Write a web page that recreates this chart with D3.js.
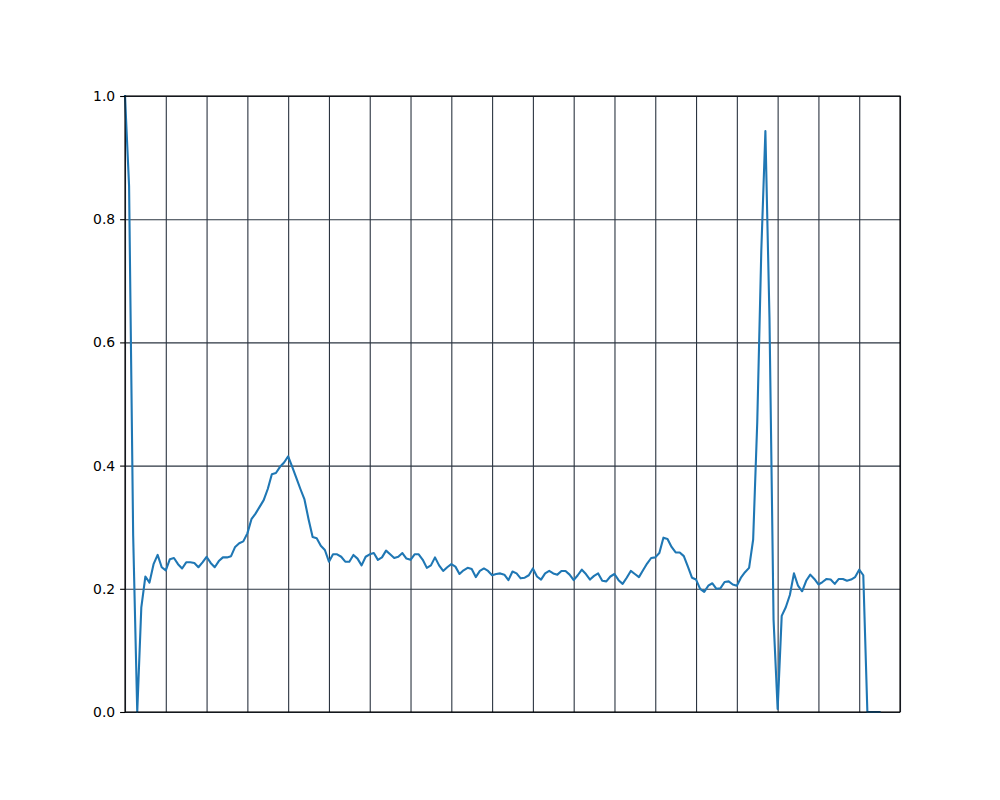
<!DOCTYPE html>
<html>
<head>
<meta charset="utf-8">
<script src="https://cdn.jsdelivr.net/npm/d3@7"></script>
<style>
  html, body { margin: 0; padding: 0; background: #fff; }
  svg { display: block; }
</style>
</head>
<body>
<svg id="chart" width="1000" height="800"></svg>
<script>
// ---- data ----
const signal = [
  1.0, 0.854, 0.287, 0.0, 0.17, 0.22, 0.21, 0.24, 0.255, 0.235,
  0.23, 0.248, 0.25, 0.24, 0.233, 0.243, 0.243, 0.242, 0.235, 0.243,
  0.252, 0.242, 0.235, 0.245, 0.251, 0.251, 0.253, 0.268, 0.274, 0.277,
  0.29, 0.313, 0.322, 0.333, 0.344, 0.362, 0.386, 0.388, 0.398, 0.405,
  0.415, 0.398, 0.38, 0.362, 0.345, 0.313, 0.284, 0.282, 0.27, 0.263,
  0.244, 0.256, 0.256, 0.252, 0.244, 0.244, 0.255, 0.249, 0.238, 0.252,
  0.256, 0.258, 0.247, 0.251, 0.262, 0.256, 0.25, 0.252, 0.258, 0.249,
  0.247, 0.256, 0.256, 0.247, 0.234, 0.238, 0.251, 0.238, 0.229, 0.235,
  0.24, 0.236, 0.224, 0.23, 0.234, 0.232, 0.219, 0.229, 0.233, 0.229,
  0.222, 0.224, 0.225, 0.223, 0.214, 0.228, 0.225, 0.217, 0.218, 0.222,
  0.233, 0.22, 0.215, 0.225, 0.229, 0.225, 0.223, 0.229, 0.229, 0.223,
  0.214, 0.222, 0.231, 0.224, 0.215, 0.221, 0.225, 0.213, 0.212, 0.22,
  0.224, 0.214, 0.208, 0.218, 0.229, 0.224, 0.219, 0.23, 0.241, 0.25,
  0.251, 0.258, 0.283, 0.281, 0.268, 0.259, 0.259, 0.253, 0.236, 0.218,
  0.215, 0.2, 0.195, 0.205, 0.209, 0.2, 0.201, 0.211, 0.212, 0.207,
  0.205, 0.218, 0.227, 0.234, 0.28, 0.47, 0.75, 0.943, 0.64, 0.15,
  0.005, 0.156, 0.17, 0.19, 0.225, 0.205, 0.196, 0.213, 0.223, 0.216,
  0.207, 0.211, 0.216, 0.215, 0.208, 0.216, 0.216, 0.213, 0.215, 0.219,
  0.231, 0.222, 0.0, 0.0, 0.0, 0.0
];
const sampleIndex = signal.map((_, i) => i);
const xTicks = d3.range(0, 191, 10);          // vertical grid positions (no labels)
const yTicks = [0.0, 0.2, 0.4, 0.6, 0.8, 1.0];
const yTickLabels = ["0.0", "0.2", "0.4", "0.6", "0.8", "1.0"];

// ---- layout ----
const margin = { left: 125, right: 100, top: 96, bottom: 88 };
const W = 1000, H = 800;
const iw = W - margin.left - margin.right;
const ih = H - margin.top - margin.bottom;

const svg = d3.select("#chart");
const g = svg.append("g").attr("transform", `translate(${margin.left},${margin.top})`);

const x = d3.scaleLinear().domain([0, 190]).range([0, iw]);
const y = d3.scaleLinear().domain([0, 1]).range([ih, 0]);

const gridColor = "#2b3440";

// grid (x)
g.append("g")
  .attr("class", "xgrid")
  .attr("transform", `translate(0,${ih})`)
  .call(d3.axisBottom(x).tickValues(xTicks).tickSize(-ih).tickFormat(""))
  .call(s => s.select(".domain").remove())
  .call(s => s.selectAll("line").attr("stroke", gridColor).attr("stroke-width", 1.1));

// grid (y)
g.append("g")
  .attr("class", "ygrid")
  .call(d3.axisLeft(y).tickValues(yTicks).tickSize(-iw).tickFormat(""))
  .call(s => s.select(".domain").remove())
  .call(s => s.selectAll("line").attr("stroke", gridColor).attr("stroke-width", 1.1));

// line
const line = d3.line()
  .x((d, i) => x(sampleIndex[i]))
  .y(d => y(d));

g.append("path")
  .datum(signal)
  .attr("fill", "none")
  .attr("stroke", "#1f77b4")
  .attr("stroke-width", 2.1)
  .attr("stroke-linejoin", "round")
  .attr("stroke-linecap", "square")
  .attr("d", line);

// y axis with ticks/labels
const yAxis = g.append("g")
  .call(d3.axisLeft(y).tickValues(yTicks).tickSize(4.9).tickPadding(4.9)
        .tickFormat((d, i) => yTickLabels[i]));
yAxis.select(".domain").remove();
yAxis.selectAll("line").attr("stroke", "#000").attr("stroke-width", 1.1);
yAxis.selectAll("text")
  .attr("fill", "#000")
  .style("font-family", "'DejaVu Sans', sans-serif")
  .style("font-size", "13.9px");

// frame
g.append("rect")
  .attr("x", 0).attr("y", 0)
  .attr("width", iw).attr("height", ih)
  .attr("fill", "none")
  .attr("stroke", "#000")
  .attr("stroke-width", 1.1);
</script>
</body>
</html>
